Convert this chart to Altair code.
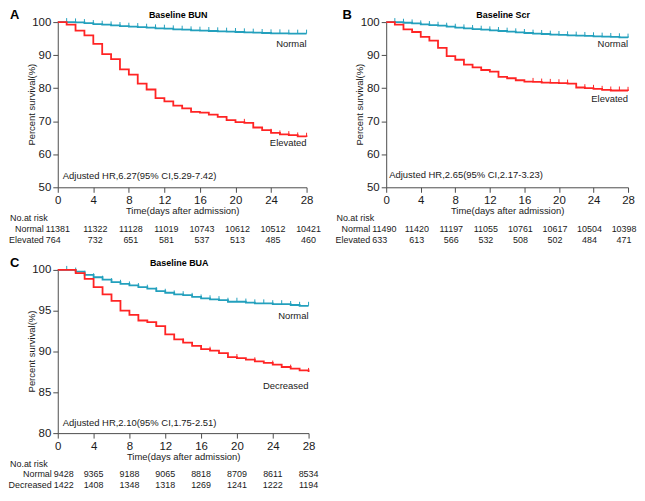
import altair as alt
import pandas as pd

FONT = "Liberation Sans"
TEAL = "#23a0bd"
RED = "#ff2424"
AXIS = "#4d4d4d"
INK = "#1a1a1a"

days = list(range(29))

bun_normal = [100, 100, 99.9, 99.7, 99.4, 99.2, 99.0, 98.8, 98.6, 98.5, 98.3, 98.1, 98.0, 97.8, 97.7,
              97.5, 97.4, 97.3, 97.2, 97.1, 97.0, 96.9, 96.8, 96.7, 96.6, 96.6, 96.5, 96.5, 96.5]
bun_elevated = [100, 99.2, 97.4, 96.0, 93.4, 90.3, 88.8, 85.7, 84.1, 81.4, 79.6, 77.0, 76.0, 74.7, 73.9,
                72.8, 72.6, 72.0, 71.3, 70.3, 69.7, 69.5, 68.1, 67.3, 66.5, 66.0, 65.8, 65.4, 65.3]
scr_normal = [100, 100, 99.8, 99.6, 99.3, 99.1, 98.9, 98.6, 98.3, 98.1, 97.9, 97.7, 97.5, 97.3, 97.1,
              96.9, 96.7, 96.5, 96.4, 96.2, 96.1, 96.0, 95.9, 95.8, 95.7, 95.6, 95.5, 95.4, 95.3]
scr_elevated = [100, 99.2, 97.8, 97.0, 95.5, 94.4, 92.2, 89.7, 88.6, 87.1, 86.3, 85.5, 85.0, 83.4, 83.0,
                82.4, 82.0, 81.9, 81.7, 81.6, 81.5, 81.4, 80.2, 80.0, 79.8, 79.5, 79.3, 79.3, 79.2]
bua_normal = [100, 100, 99.8, 99.4, 99.1, 98.8, 98.5, 98.3, 98.1, 97.9, 97.7, 97.4, 97.2, 97.0, 96.9,
              96.7, 96.5, 96.4, 96.3, 96.1, 96.1, 96.0, 95.9, 95.9, 95.8, 95.8, 95.7, 95.6, 95.6]
bua_decreased = [100, 100, 99.6, 98.9, 97.9, 97.0, 96.2, 95.0, 94.5, 93.8, 93.6, 93.1, 92.1, 91.5, 91.1,
                 90.7, 90.3, 90.1, 89.8, 89.3, 89.2, 89.0, 88.8, 88.6, 88.4, 88.1, 87.9, 87.7, 87.5]

censor_normal = list(range(1, 29))
bun_censor_elev = [21, 24, 25, 26, 27, 28]
scr_censor_elev = [17, 18, 19, 20, 21, 23, 24, 25, 26, 27, 28]
bua_censor_dec = [11, 14, 17, 20, 22, 24, 26, 28]

risk_days = [0, 4, 8, 12, 16, 20, 24, 28]
bun_risk_normal = [11381, 11322, 11128, 11019, 10743, 10612, 10512, 10421]
bun_risk_elevated = [764, 732, 651, 581, 537, 513, 485, 460]
scr_risk_normal = [11490, 11420, 11197, 11055, 10761, 10617, 10504, 10398]
scr_risk_elevated = [633, 613, 566, 532, 508, 502, 484, 471]
bua_risk_normal = [9428, 9365, 9188, 9065, 8818, 8709, 8611, 8534]
bua_risk_decreased = [1422, 1408, 1348, 1318, 1269, 1241, 1222, 1194]


def label(text, x, y, **kw):
    return alt.Chart(pd.DataFrame({"t": [text]})).mark_text(**kw).encode(
        x=alt.value(x), y=alt.value(y), text="t:N")


def panel(letter, title, normal, other, other_name, censor_other, ydom, ystep,
          hr_text, hr_y, lab_normal_y, lab_other_y, risk_n, risk_o,
          w, h, letter_x, rowlab_x, firstnum_dx, hr_dx, num_dx, row_gap, noat_x):
    xs = alt.Scale(domain=[0, 28], nice=False)
    ys = alt.Scale(domain=ydom, nice=False, zero=False)
    X = alt.X("day:Q", scale=xs, axis=alt.Axis(values=risk_days, title="Time(days after admission)",
                                               labelFlush=False))
    Y = alt.Y("s:Q", scale=ys, axis=alt.Axis(values=list(range(ydom[0], ydom[1] + 1, ystep)),
                                             title=None, labelFlush=False))

    layers = []
    for vals, cdays, col in ((normal, censor_normal, TEAL), (other, censor_other, RED)):
        df = pd.DataFrame({"day": days, "s": vals})
        layers.append(alt.Chart(df).mark_line(interpolate="step-after", strokeWidth=1.8, color=col)
                      .encode(x=X, y=Y))
        cdf = pd.DataFrame({"day": cdays, "s": [vals[d] for d in cdays]})
        layers.append(alt.Chart(cdf).mark_rule(strokeWidth=1, y2Offset=-4, color=col)
                      .encode(x=X, y=Y, y2=alt.Y2("s")))

    labs = pd.DataFrame({"day": [28, 28], "s": [lab_normal_y, lab_other_y], "t": ["Normal", other_name]})
    layers.append(alt.Chart(labs).mark_text(align="right", baseline="middle", fontSize=9.5, color=INK)
                  .encode(x=X, y=Y, text="t:N"))

    layers.append(alt.Chart(pd.DataFrame({"day": [0], "s": [hr_y], "t": [hr_text]})).mark_text(
        align="left", baseline="middle", fontSize=9.5, dx=hr_dx, color=INK).encode(x=X, y=Y, text="t:N"))

    risk = pd.DataFrame({"day": risk_days, "n": [str(v) for v in risk_n], "o": [str(v) for v in risk_o]})
    rb = alt.Chart(risk)
    y_n = h + 31 + row_gap
    y_o = h + 31 + 2 * row_gap
    for field, yy in (("n:N", y_n), ("o:N", y_o)):
        layers.append(rb.transform_filter("datum.day == 0").mark_text(
            align="left", baseline="middle", fontSize=9, dx=firstnum_dx, color=INK).encode(
            x=X, y=alt.value(yy), text=field))
        layers.append(rb.transform_filter("datum.day > 0").mark_text(
            align="center", baseline="middle", fontSize=9, dx=num_dx, color=INK).encode(
            x=X, y=alt.value(yy), text=field))

    layers += [
        label(letter, letter_x, -13, align="left", baseline="top", fontSize=13, fontWeight="bold", color="#000"),
        label(title, w / 2 - 4, -7, align="center", baseline="middle", fontSize=9, fontWeight="bold", color="#000"),
        label("Percent survival(%)", -26, h / 2, align="center", baseline="middle", angle=270,
              fontSize=9.5, color=INK),
        label("No.at risk", noat_x, h + 31, align="left", baseline="middle", fontSize=9, color=INK),
        label("Normal", rowlab_x, y_n, align="right", baseline="middle", fontSize=9, color=INK),
        label(other_name, rowlab_x, y_o, align="right", baseline="middle", fontSize=9, color=INK),
    ]
    return alt.layer(*layers).properties(width=w, height=h)


A = panel("A", "Baseline BUN", bun_normal, bun_elevated, "Elevated", bun_censor_elev, [50, 100], 10,
          "Adjusted HR,6.27(95% CI,5.29-7.42)", 53.5, 93.4, 63.4,
          bun_risk_normal, bun_risk_elevated, 250, 166, -48, -14, -12, 5, 2, 11, -48)
B = panel("B", "Baseline Scr", scr_normal, scr_elevated, "Elevated", scr_censor_elev, [50, 100], 10,
          "Adjusted HR,2.65(95% CI,2.17-3.23)", 53.8, 93.3, 76.8,
          scr_risk_normal, scr_risk_elevated, 243, 166, -44, -16, -14, 3, -4, 11, -50)
Cp = panel("C", "Baseline BUA", bua_normal, bua_decreased, "Decreased", bua_censor_dec, [80, 100], 5,
           "Adjusted HR,2.10(95% CI,1.75-2.51)", 81.2, 94.35, 85.8,
           bua_risk_normal, bua_risk_decreased, 252, 164, -48, -6, -4, 5, 0, 10.5, -48)

chart = alt.concat(A, B, Cp, columns=2, spacing={"row": 12, "column": 13}).properties(
    padding=0
).configure_view(stroke=None).configure_axis(
    grid=False, domainColor=AXIS, tickColor=AXIS, labelColor=INK, labelFont=FONT, titleFont=FONT,
    labelFontSize=11.5, titleFontSize=9.5, titleFontWeight="normal", titleColor=INK,
    tickSize=5, labelPadding=2, titlePadding=0, domainWidth=1, tickWidth=1
).configure_text(font=FONT)

chart.save("out.html", embed_options={"renderer": "svg", "actions": False})
